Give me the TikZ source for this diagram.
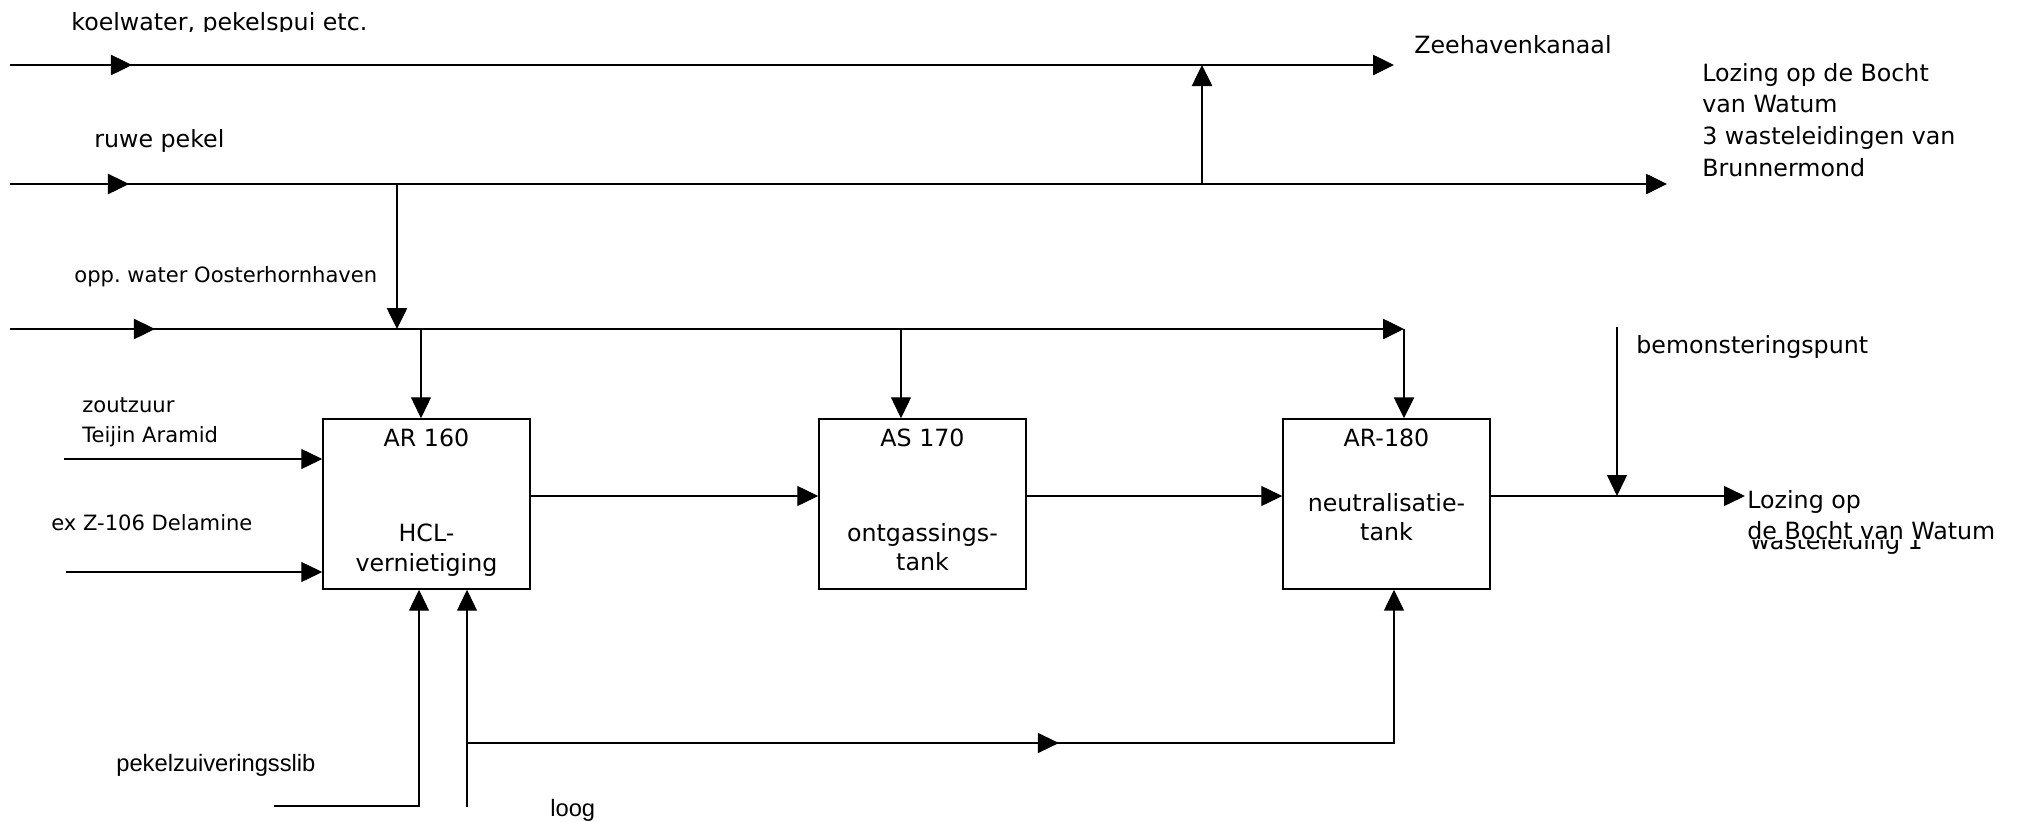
\documentclass[tikz,border=0pt]{standalone}
\usepackage{fontspec}
\setmainfont{DejaVu Sans}
\newfontfamily\arialfont{Liberation Sans}
\usetikzlibrary{arrows.meta,calc,positioning,decorations.markings}
\begin{document}
\begin{tikzpicture}
	[x=0.02cm,y=-0.02cm,
	pipe/.style={line width=1.5pt},
	thinline/.style={line width=0.75pt},
	flow/.style={-{Triangle[length=0.42cm,width=0.4cm]}},
	midarrow/.style={postaction={decorate},decoration={markings,mark=at position #1 with {\arrow{Triangle[length=0.42cm,width=0.4cm]}}}},
	tank/.style={draw,line width=0.85pt,minimum width=4.14cm,minimum height=3.4cm,inner sep=0pt},
	intank/.style={inner sep=0pt,align=center,font=\fontsize{13.5}{16.8}\selectfont},
	lbl/.style={anchor=base west,inner sep=0pt,align=left,font=\fontsize{13.5}{18}\selectfont},
	lblsmall/.style={anchor=base west,inner sep=0pt,align=left,font=\fontsize{12}{17}\selectfont},
	lblarial/.style={anchor=base west,inner sep=0pt,font=\arialfont\fontsize{13.5}{16}\selectfont}]
	\useasboundingbox (0,0) rectangle (2023,822);
	% tanks
	\node[tank] (ar160) at (426.5,504) {};
	\node[tank] (as170) at (922.5,504) {};
	\node[tank] (ar180) at (1386.5,504) {};
	\node[intank,anchor=base] (ar160id) at ($(ar160.north)+(0,28)$) {AR 160};
	\node[intank] (ar160txt) at ($(ar160.center)+(0,46)$) {HCL-\\vernietiging};
	\node[intank,anchor=base] (as170id) at ($(as170.north)+(0,28)$) {AS 170};
	\node[intank] (as170txt) at ($(as170.center)+(0,43)$) {ontgassings-\\tank};
	\node[intank,anchor=base] (ar180id) at ($(ar180.north)+(0,28)$) {AR-180};
	\node[intank] (ar180txt) at ($(ar180.center)+(0,13)$) {neutralisatie-\\tank};
	% labels
	\begin{scope}
		\clip (0,0) rectangle (2023,31);
		\node[lbl] (koel) at (71,30) {koelwater, pekelspui etc.};
	\end{scope}
	\node[lbl] (zee) at (1414,53) {Zeehavenkanaal};
	\node[lbl] (brunner) at (1702,176) {Lozing op de Bocht\\van Watum\\3 wasteleidingen van\\Brunnermond};
	\node[lbl] (ruwe) at (94,147) {ruwe pekel};
	\node[lblsmall] (opp) at (74,282) {opp.\ water Oosterhornhaven};
	\node[lblsmall] (zout) at (82,442) {zoutzuur\\Teijin Aramid};
	\node[lblsmall] (dela) at (51,530) {ex Z-106 Delamine};
	\node[lbl] (bemtxt) at (1636,353) {bemonsteringspunt};
	\node[lbl] (loz1) at (1747,508) {Lozing op};
	\node[lbl] (waste) at (1750,549) {wasteleiding 1};
	\node[lbl,fill=white,inner ysep=0.5pt] (loz2) at (1747,539) {de Bocht van Watum};
	\node[lblarial] (slib) at (116,771) {pekelzuiveringsslib};
	\node[lblarial] (loog) at (550,816) {loog};
	% main lines
	\coordinate (k0) at (10,65);
	\coordinate (k1) at (1394,65);
	\coordinate (r0) at (10,184);
	\coordinate (r1) at (1667,184);
	\coordinate (rz) at (1202,184);
	\coordinate (ro) at (397,184);
	\coordinate (o0) at (10,329);
	\coordinate (o1) at (1404,329);
	\draw[pipe,flow,midarrow=2.44cm] (k0) -- (k1);
	\draw[pipe,flow,midarrow=2.38cm] (r0) -- (r1);
	\draw[pipe,flow] (rz) -- (rz |- k0);
	\draw[pipe,flow] (ro) -- (ro |- o0);
	\draw[pipe,flow,midarrow=2.9cm] (o0) -- (o1);
	\draw[pipe,flow] (o1) -- (o1 |- ar180.north);
	\coordinate (oa) at (421,329);
	\coordinate (ob) at (901,329);
	\draw[thinline,flow] (oa) -- (oa |- ar160.north);
	\draw[thinline,flow] (ob) -- (ob |- as170.north);
	% inputs AR 160
	\coordinate (hcl0) at (64,459);
	\coordinate (dela0) at (66,572);
	\draw[thinline,flow] (hcl0) -- (hcl0 -| ar160.west);
	\draw[thinline,flow] (dela0) -- (dela0 -| ar160.west);
	% chain
	\draw[thinline,flow] ([yshift=0.16cm]ar160.east) -- ([yshift=0.16cm]as170.west);
	\draw[thinline,flow] ([yshift=0.16cm]as170.east) -- ([yshift=0.16cm]ar180.west);
	\coordinate (lozing) at (1745,496);
	\coordinate (bem) at (1617,327);
	\draw[thinline,flow] (lozing -| ar180.east) -- (lozing);
	\draw[thinline,flow] (bem) -- (bem |- lozing);
	% bottom
	\coordinate (slib0) at (274,806);
	\coordinate (slib1) at (419,806);
	\coordinate (loog0) at (467,807);
	\coordinate (lj) at (467,743);
	\coordinate (lc) at (1394,743);
	\draw[thinline,flow] (slib0) -- (slib1) -- (slib1 |- ar160.south);
	\draw[thinline,flow] (loog0) -- (loog0 |- ar160.south);
	\draw[line width=0.9pt,flow,midarrow=11.84cm] (lj) -- (lc) -- (lc |- ar180.south);
\end{tikzpicture}
\end{document}
